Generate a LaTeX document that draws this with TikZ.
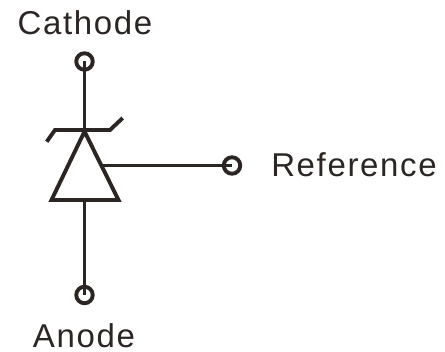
\documentclass[tikz,border=0pt]{standalone}
\usepackage{fontspec}
\setmainfont[LetterSpace=5]{Liberation Sans}
\definecolor{ink}{HTML}{2B2523}
\begin{document}
\begin{tikzpicture}[x=1pt,y=-1pt,line width=3.9pt,draw=ink,
  term/.style={circle,draw=ink,line width=3.9pt,inner sep=0pt,minimum size=16.5pt},
  lbl/.style={inner sep=0pt,anchor=base,font=\fontsize{33}{36}\selectfont,text=ink}]
\useasboundingbox (0,0) rectangle (445,352);
\node[lbl] (cat) at (85,35) {Cathode};
\node[lbl] (ref) at (354,177) {Reference};
\node[lbl] (ano) at (84,348) {Anode};
\node[term] (tc) at (84.5,61.5) {};
\node[term] (tr) at (232,165.5) {};
\node[term] (ta) at (84.5,295) {};
\coordinate (top) at (84.5,131.5);
\coordinate (bl) at (51.5,200);
\coordinate (br) at (118.5,200);
\coordinate (bm) at (84.5,200);
\coordinate (kl) at (46.7,141.7);
\coordinate (klb) at (55,130);
\coordinate (krb) at (110,130);
\coordinate (kr) at (122.7,118);
\coordinate (rs) at (102.7,165.5);
\draw[line join=miter] (top) -- (bl) -- (br) -- cycle;
\draw (kl) -- (klb) -- (krb) -- (kr);
\draw (tc.center) -- (top);
\draw (bm) -- (ta.center);
\draw (rs) -- (tr.center);
\end{tikzpicture}
\end{document}
